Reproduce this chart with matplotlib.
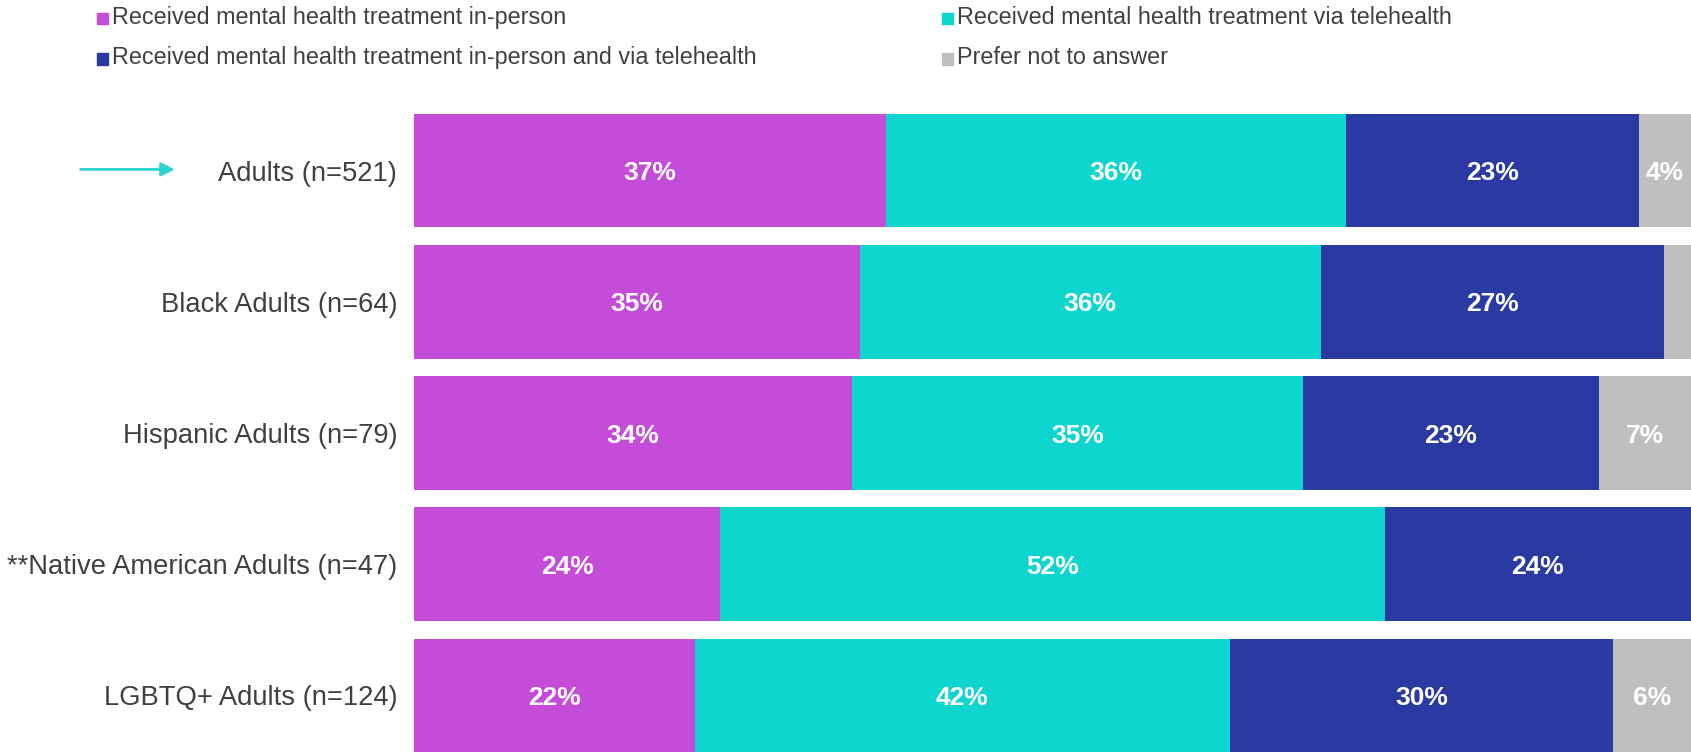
import matplotlib
matplotlib.use("Agg")
from matplotlib import pyplot as plt
from matplotlib.patches import Rectangle, FancyArrowPatch

plt.rcParams['font.family'] = ['Liberation Sans', 'DejaVu Sans']

# data
groups = ["Adults (n=521)", "Black Adults (n=64)", "Hispanic Adults (n=79)",
          "**Native American Adults (n=47)", "LGBTQ+ Adults (n=124)"]
series = ["Received mental health treatment in-person",
          "Received mental health treatment via telehealth",
          "Received mental health treatment in-person and via telehealth",
          "Prefer not to answer"]
in_person = [37.0, 34.9, 34.3, 24.0, 22.0]
telehealth = [36.0, 36.1, 35.3, 52.0, 41.9]
both = [22.9, 26.9, 23.2, 24.0, 30.0]
no_answer = [4.1, 2.1, 7.2, 0.0, 6.1]
colors = ["#C44CD9", "#0ED6CE", "#2B3AA3", "#BFBFBF"]

fig = plt.figure(figsize=(16.91, 7.53), dpi=100)
ax = fig.add_axes([0.2448, 0.0013, 0.7552, 0.8473])

ypos = range(len(groups))
left = [0.0] * len(groups)
for vals, col in zip([in_person, telehealth, both, no_answer], colors):
    ax.barh(ypos, vals, left=left, height=0.865, color=col)
    for i, v in enumerate(vals):
        if v >= 3:
            ax.text(left[i] + v / 2, i + 0.02, f"{round(v)}%", ha="center",
                    va="center", color="white", fontsize=19, fontweight="bold")
    left = [l + v for l, v in zip(left, vals)]

ax.set_xlim(0, 100)
ax.set_ylim(len(groups) - 1 + 0.4325, -0.4325)
ax.set_yticks(list(ypos))
ax.set_yticklabels(groups, fontsize=19.7, color="#404040")
ax.tick_params(axis="y", length=0, pad=12)
ax.set_xticks([])
for s in ax.spines.values():
    s.set_visible(False)

# legend drawn by hand
leg_x = [0.0575, 0.557]
leg_y = [0.977, 0.923]
for k, (name, col) in enumerate(zip(series, colors)):
    x = leg_x[k % 2]
    y = leg_y[k // 2]
    fig.patches.append(Rectangle((x, y - 0.009), 0.0065, 0.015, color=col,
                                 transform=fig.transFigure))
    fig.text(x + 0.009, y, name, fontsize=16.8, color="#404040", va="center")

# arrow pointing at the all-adults row
fig.patches.append(FancyArrowPatch((0.046, 0.775), (0.105, 0.775),
                                   transform=fig.transFigure, arrowstyle="-|>",
                                   mutation_scale=20, color="#2DD4CF", lw=2))

fig.savefig("out.png", dpi=100)
